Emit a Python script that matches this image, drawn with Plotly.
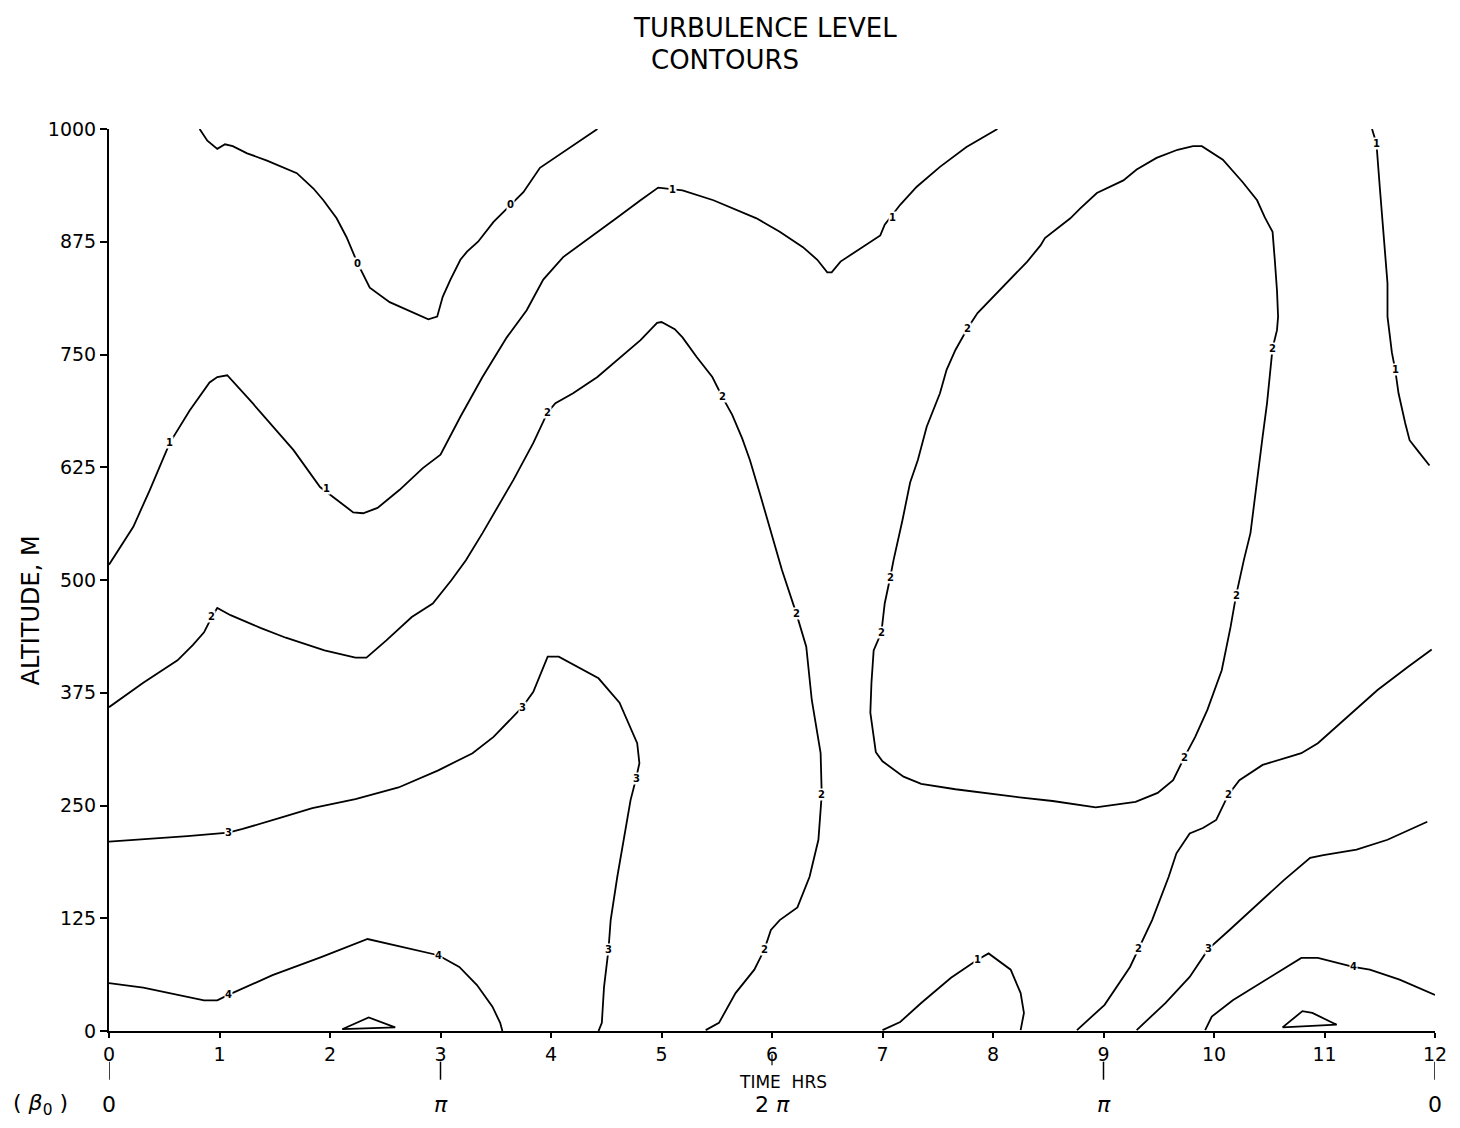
import plotly.graph_objects as go

# ---- Contour lines: time (hours) and altitude (metres) ----
# level 0
lvl0_hr = [0.82, 0.89, 0.98, 1.05, 1.12, 1.25, 1.43, 1.70, 1.85, 1.94, 2.06, 2.15, 2.25, 2.32, 2.36,
           2.54, 2.75, 2.89, 2.97, 3.02, 3.09, 3.18, 3.24, 3.34, 3.48, 3.63, 3.75, 3.90, 4.14, 4.42]
lvl0_m = [1000, 987, 978, 983, 981, 973, 965, 951, 934, 921, 901, 880, 851, 833, 824,
          808, 797, 789, 792, 814, 833, 855, 864, 875, 897, 916, 930, 957, 977, 1000]

# level 1, upper band
lvl1a_hr = [0.00, 0.22, 0.37, 0.55, 0.73, 0.91, 0.98, 1.07, 1.30, 1.67, 1.91, 2.03, 2.21, 2.30, 2.43,
            2.63, 2.84, 3.00, 3.18, 3.38, 3.60, 3.78, 3.93, 4.11, 4.35, 4.60, 4.81, 4.97, 5.19, 5.47,
            5.86, 6.07, 6.28, 6.41, 6.50, 6.54, 6.62, 6.73, 6.98, 7.02, 7.16, 7.31, 7.52, 7.76, 8.04]
lvl1a_m = [517, 559, 600, 652, 688, 719, 725, 727, 696, 644, 603, 592, 575, 574, 580,
           600, 624, 639, 681, 725, 769, 799, 833, 858, 880, 902, 921, 935, 932, 921,
           901, 886, 869, 855, 841, 841, 853, 862, 882, 894, 916, 936, 958, 980, 1000]

# level 1, right edge
lvl1b_hr = [11.43, 11.47, 11.50, 11.53, 11.57, 11.57, 11.61, 11.64, 11.67, 11.73, 11.77, 11.84, 11.95]
lvl1b_m = [1000, 984, 936, 891, 829, 792, 752, 733, 707, 674, 655, 644, 627]

# level 1, surface bump
lvl1c_hr = [7.00, 7.16, 7.35, 7.62, 7.86, 7.96, 8.16, 8.25, 8.28, 8.25]
lvl1c_m = [1, 10, 31, 59, 79, 86, 68, 42, 20, 1]

# level 2, long band on the left
lvl2a_hr = [0.00, 0.31, 0.62, 0.76, 0.86, 0.93, 0.98, 1.10, 1.37, 1.60, 1.95, 2.11, 2.23, 2.33, 2.51,
            2.74, 2.93, 3.10, 3.23, 3.38, 3.66, 3.84, 3.97, 4.04, 4.20, 4.42, 4.62, 4.81, 4.96, 5.00,
            5.12, 5.19, 5.32, 5.46, 5.55, 5.64, 5.73, 5.80, 5.89, 5.98, 6.09, 6.22, 6.31, 6.36, 6.44,
            6.45, 6.42, 6.34, 6.23, 6.07, 5.99, 5.93, 5.84, 5.67, 5.52, 5.40]
lvl2a_m = [359, 386, 411, 428, 442, 459, 469, 461, 447, 436, 422, 417, 414, 414, 433,
           459, 474, 500, 522, 552, 611, 652, 686, 696, 707, 725, 746, 766, 785, 786,
           778, 769, 747, 725, 703, 683, 657, 633, 596, 559, 511, 463, 426, 367, 308,
           262, 212, 171, 137, 123, 112, 90, 68, 42, 9, 1]

# level 2, closed loop
lvl2b_hr = [6.94, 6.89, 6.90, 6.92, 6.99, 7.02, 7.07, 7.10, 7.18, 7.25, 7.32, 7.40, 7.52, 7.58, 7.66,
            7.77, 7.86, 7.97, 8.15, 8.31, 8.43, 8.47, 8.70, 8.79, 8.94, 9.18, 9.30, 9.48, 9.67, 9.81,
            9.89, 10.08, 10.26, 10.39, 10.46, 10.53, 10.55, 10.57, 10.58, 10.57, 10.53, 10.51, 10.48,
            10.44, 10.40, 10.37, 10.33, 10.27, 10.20, 10.15, 10.07, 9.94, 9.83, 9.73, 9.63, 9.49,
            9.29, 8.93, 8.54, 8.24, 7.93, 7.66, 7.35, 7.19, 7.00, 6.94]
lvl2b_m = [309, 353, 386, 422, 442, 474, 503, 522, 566, 608, 633, 670, 707, 733, 755,
           779, 796, 810, 833, 853, 871, 879, 901, 912, 929, 943, 955, 968, 977, 981,
           981, 966, 941, 921, 902, 886, 855, 821, 792, 777, 757, 733, 696,
           659, 622, 589, 552, 522, 483, 448, 400, 356, 326, 303, 278, 264,
           254, 248, 255, 259, 264, 268, 274, 282, 299, 309]

# level 2, lower right
lvl2c_hr = [8.76, 9.01, 9.24, 9.32, 9.44, 9.59, 9.66, 9.78, 9.90, 10.02, 10.09, 10.13, 10.23, 10.44,
            10.68, 10.79, 10.94, 11.21, 11.48, 11.76, 11.97]
lvl2c_m = [1, 29, 71, 92, 123, 171, 197, 219, 225, 234, 253, 262, 278, 295,
           304, 308, 319, 348, 378, 404, 423]

# level 3, left
lvl3a_hr = [0.00, 0.71, 1.08, 1.21, 1.57, 1.84, 2.23, 2.62, 2.98, 3.29, 3.48, 3.64, 3.74, 3.84, 3.97,
            4.07, 4.43, 4.62, 4.78, 4.80, 4.77, 4.72, 4.66, 4.60, 4.54, 4.52, 4.48, 4.46, 4.43]
lvl3a_m = [210, 216, 220, 224, 237, 247, 257, 270, 289, 308, 326, 347, 359, 376, 415,
           415, 391, 364, 319, 297, 280, 256, 215, 171, 123, 90, 49, 9, 0]

# level 3, right
lvl3b_hr = [9.30, 9.56, 9.78, 9.95, 10.14, 10.41, 10.63, 10.87, 10.99, 11.29, 11.57, 11.93]
lvl3b_m = [1, 31, 60, 91, 112, 142, 167, 192, 195, 201, 212, 232]

# level 4, left
lvl4a_hr = [0.00, 0.31, 0.86, 0.98, 1.08, 1.48, 1.92, 2.34, 2.98, 3.17, 3.33, 3.47, 3.54, 3.56]
lvl4a_m = [53, 48, 34, 34, 40, 62, 82, 102, 84, 71, 51, 27, 9, 0]

# level 4, right
lvl4b_hr = [9.92, 9.98, 10.17, 10.52, 10.79, 10.94, 11.10, 11.26, 11.41, 11.68, 12.00]
lvl4b_m = [1, 16, 34, 60, 81, 81, 76, 71, 68, 57, 40]

# small closed cells at the surface
cell1_hr = [2.11, 2.35, 2.59, 2.11]
cell1_m = [2, 15, 4, 2]
cell2_hr = [10.62, 10.80, 10.89, 11.11, 10.62]
cell2_m = [4, 22, 20, 7, 4]

# contour value labels placed along the lines
label_hr = [2.25, 3.63,
            0.55, 1.97, 5.10, 7.09, 11.47, 11.64, 7.86,
            0.93, 3.97, 5.55, 6.22, 6.45, 5.93,
            7.77, 10.53, 7.07, 6.99, 10.20, 9.73, 9.32, 10.13,
            1.08, 3.74, 4.77, 4.52, 9.95,
            1.08, 2.98, 11.26]
label_m = [851, 916,
           652, 602, 933, 902, 984, 733, 79,
           459, 686, 703, 463, 262, 90,
           779, 757, 503, 442, 483, 303, 92, 262,
           220, 359, 280, 90, 91,
           40, 84, 71]
label_txt = ["0", "0",
             "1", "1", "1", "1", "1", "1", "1",
             "2", "2", "2", "2", "2", "2",
             "2", "2", "2", "2", "2", "2", "2", "2",
             "3", "3", "3", "3", "3",
             "4", "4", "4"]

# axis ticks
hour_ticks = list(range(0, 13))
alt_ticks = [0, 125, 250, 375, 500, 625, 750, 875, 1000]

# phase row under the time axis
phase_hr = [0, 3, 6, 9, 12]
phase_txt = ["0", "<i>π</i>", "2 <i>π</i>", "<i>π</i>", "0"]

FONT = "DejaVu Sans"

lines = [
    (lvl0_hr, lvl0_m), (lvl1a_hr, lvl1a_m), (lvl1b_hr, lvl1b_m), (lvl1c_hr, lvl1c_m),
    (lvl2a_hr, lvl2a_m), (lvl2b_hr, lvl2b_m), (lvl2c_hr, lvl2c_m),
    (lvl3a_hr, lvl3a_m), (lvl3b_hr, lvl3b_m), (lvl4a_hr, lvl4a_m), (lvl4b_hr, lvl4b_m),
    (cell1_hr, cell1_m), (cell2_hr, cell2_m),
]

fig = go.Figure()
for hr, m in lines:
    fig.add_trace(go.Scatter(
        x=hr, y=m, mode="lines",
        line=dict(color="black", width=1.8),
        hoverinfo="skip", showlegend=False,
    ))

annotations = []
for hx, my, t in zip(label_hr, label_m, label_txt):
    annotations.append(dict(
        x=hx, y=my, xref="x", yref="y", text="<b>" + t + "</b>", showarrow=False,
        font=dict(family=FONT, size=10, color="black"),
        bgcolor="white", borderpad=0,
    ))


def note(x, y, text, size, xref="paper", **kw):
    return dict(x=x, y=y, xref=xref, yref="paper", text=text, showarrow=False,
                xanchor="center", yanchor="middle",
                font=dict(family=FONT, size=size, color="black"), **kw)


# title lines
annotations.append(note(0.495, 1.112, "TURBULENCE LEVEL", 26))
annotations.append(note(0.4646, 1.0765, "CONTOURS", 26))

# axis titles
annotations.append(note(-0.059, 0.466, "ALTITUDE, M", 24, textangle=-90))
annotations.append(note(6.1, -0.0565, "TIME  HRS", 17, xref="x"))

# phase labels
annotations.append(note(-0.052, -0.082, "( <i>β</i><sub>0</sub> )", 22))
for hx, t in zip(phase_hr, phase_txt):
    annotations.append(note(hx, -0.082, t, 22, xref="x"))

shapes = []
for hx in [0, 3, 9, 12]:
    shapes.append(dict(type="line", xref="x", yref="paper", x0=hx, x1=hx, y0=-0.034, y1=-0.054,
                       line=dict(color="black", width=1.5)))
shapes.append(dict(type="line", xref="x", yref="paper", x0=6, x1=6, y0=-0.026, y1=-0.038,
                   line=dict(color="black", width=1.2)))

fig.update_layout(
    width=1460, height=1128,
    margin=dict(l=109, r=25, t=129, b=97),
    paper_bgcolor="white", plot_bgcolor="white",
    showlegend=False,
    annotations=annotations,
    shapes=shapes,
    xaxis=dict(
        range=[0, 12], tickvals=hour_ticks, ticks="outside", ticklen=5, tickwidth=1.5,
        tickcolor="black", showline=True, linewidth=2, linecolor="black",
        showgrid=False, zeroline=False, tickfont=dict(family=FONT, size=19, color="black"),
    ),
    yaxis=dict(
        range=[0, 1000], tickvals=alt_ticks, ticks="outside", ticklen=7, tickwidth=1.5,
        tickcolor="black", showline=True, linewidth=2, linecolor="black",
        showgrid=False, zeroline=False, tickfont=dict(family=FONT, size=19, color="black"),
    ),
)

fig.write_html("out.html")
